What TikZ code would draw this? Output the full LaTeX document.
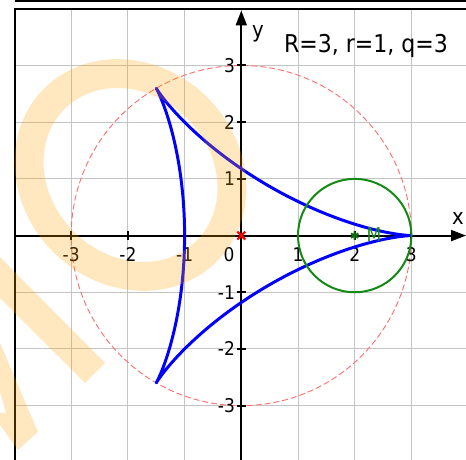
\documentclass[tikz,border=0pt]{standalone}
\usepackage{fontspec}
\setmainfont{DejaVu Sans Condensed}
\usetikzlibrary{arrows.meta, calc}
\definecolor{plotGrid}{HTML}{C4C4C4}
\definecolor{plotCurve}{HTML}{0000FF}
\definecolor{plotRoll}{HTML}{138A13}
\definecolor{plotBase}{HTML}{FF6E6E}
\definecolor{plotMark}{HTML}{FF0000}
\definecolor{plotWater}{HTML}{FFA200}
\tikzset{
  plotfig/.style={
    x=1cm, y=1cm,
    every node/.append style={font=\fontsize{9.5}{11}\selectfont, inner sep=1pt},
    >={Triangle[length=7.5pt, width=5.5pt]},
  },
  gridline/.style={draw=plotGrid, line width=0.5pt},
  frameline/.style={draw=black, line width=1pt},
  axisline/.style={draw=black, line width=1pt, ->},
  tickmark/.style={draw=black, line width=1pt},
  ticklabel/.style={text=black},
  deltoid/.style={draw=plotCurve, line width=1.5pt, line join=round},
  rollcircle/.style={draw=plotRoll, line width=1pt},
  basecircle/.style={draw=plotBase, line width=0.45pt, dash pattern=on 3pt off 1.5pt},
  % Kreuz im Ursprung und Stern im Mittelpunkt M
  markcross/.style={draw=plotMark, line width=1.1pt},
  markstar/.style={draw=plotRoll!80!black, line width=1pt},
  % Wasserzeichen liegt halbtransparent ueber allem
  waterring/.style={draw=plotWater, draw opacity=0.25, line width=14.5pt},
  waterstroke/.style={fill=plotWater, fill opacity=0.25, draw=none},
}

\begin{document}
\begin{tikzpicture}[plotfig]
  \useasboundingbox (-4.256,-3.958) rectangle (3.963,4.155);
  \clip (-4.256,-3.958) rectangle (3.963,4.155);
  \fill[white] (-4.256,-3.958) rectangle (3.963,4.155);

  \foreach \k in {-3,...,3} {
    \draw[gridline] (\k,-3.958) -- (\k,4);
    \draw[gridline] (-4,\k) -- (3.963,\k);
  }
  \draw[frameline] (-4,-3.958) -- (-4,4) -- (3.963,4);
  \draw[frameline] (-4,4.141) -- (3.963,4.141);

  \draw[basecircle] (0,0) circle [radius=3];

  \coordinate (O) at (0,0);
  \coordinate (M) at (2,0);
  \coordinate (xEnd) at (3.963,0);
  \coordinate (yEnd) at (0,3.97);
  \draw[axisline] (-4,0) -- (xEnd);
  \draw[axisline] (0,-3.958) -- (yEnd);

  \foreach \k in {-3,-2,-1,1,2,3} {
    \draw[tickmark] (\k,-0.08) -- (\k,0.08);
    \draw[tickmark] (-0.08,\k) -- (0.08,\k);
    \node[ticklabel, anchor=north] (xtick\k) at (\k,-0.17) {\k};
    \node[ticklabel, anchor=east] (ytick\k) at (-0.07,\k) {\k};
  }
  \node[ticklabel, anchor=north] (xtick0) at (-0.217,-0.17) {0};

  \node[anchor=base, font=\fontsize{11}{13}\selectfont] (xLabel) at (3.82,0.19) {x};
  \node[anchor=base, font=\fontsize{11}{13}\selectfont] (yLabel) at (0.295,3.485) {y};
  \node[anchor=base, font=\fontsize{12.3}{14}\selectfont] (Params) at (2.2,3.233) {R=3, r=1, q=3};

  \draw[deltoid] plot[domain=0:360, samples=241, variable=\t]
    ({2*cos(\t)+cos(2*\t)}, {2*sin(\t)-sin(2*\t)}) -- cycle;
  \draw[rollcircle] (M) circle [radius=1];

  \draw[markcross] ($(O)+(-0.07,-0.07)$) -- ($(O)+(0.07,0.07)$)
    ($(O)+(-0.07,0.07)$) -- ($(O)+(0.07,-0.07)$);
  \draw[markstar] ($(M)+(90:0.075)$) -- ($(M)+(270:0.075)$)
    ($(M)+(30:0.075)$) -- ($(M)+(210:0.075)$)
    ($(M)+(150:0.075)$) -- ($(M)+(330:0.075)$);
  \node[anchor=base west, text=plotRoll] (MLabel) at (2.17,-0.11) {M};

  \draw[waterring, shift={(-1.954,1.069)}, rotate=-45] (0,0) ellipse [x radius=1.90, y radius=1.67];
  \fill[waterstroke] (-4.256,-0.380) -- (-2.405,-2.246) -- (-2.756,-2.600) -- (-4.256,-1.103) -- cycle;
  \fill[waterstroke] (-4.256,-1.894) -- (-3.586,-3.464) -- (-3.938,-3.781) -- (-4.256,-3.340)
    -- (-4.256,-3.129) -- (-4.150,-3.129) -- (-4.256,-2.758) -- cycle;
\end{tikzpicture}
\end{document}
